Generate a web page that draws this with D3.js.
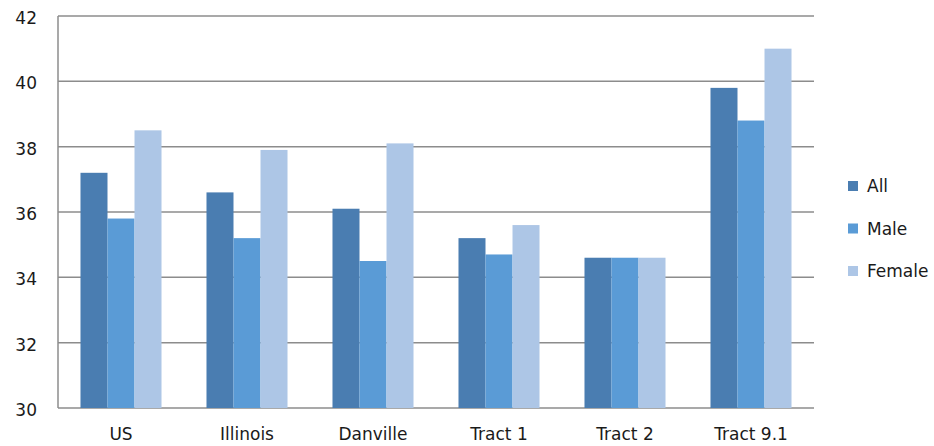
<!DOCTYPE html>
<html>
<head>
<meta charset="utf-8">
<script src="https://cdn.jsdelivr.net/npm/d3@7"></script>
<style>
  html, body { margin: 0; padding: 0; background: #fff; }
  svg text { font-family: "DejaVu Sans", Verdana, sans-serif; fill: #1a1a1a; }
</style>
</head>
<body>
<svg id="chart" width="934" height="446"></svg>
<script>
// Median age by place and sex
const categories = ["US", "Illinois", "Danville", "Tract 1", "Tract 2", "Tract 9.1"];
const seriesNames = ["All", "Male", "Female"];
const allValues    = [37.2, 36.6, 36.1, 35.2, 34.6, 39.8];
const maleValues   = [35.8, 35.2, 34.5, 34.7, 34.6, 38.8];
const femaleValues = [38.5, 37.9, 38.1, 35.6, 34.6, 41.0];
const yTicks = [30, 32, 34, 36, 38, 40, 42];
const colors = ["#4a7db1", "#5a9bd6", "#adc6e6"];

const series = [allValues, maleValues, femaleValues];

const svg = d3.select("#chart");
const margin = { left: 58, right: 120, top: 16, bottom: 38 };
const width = 934, height = 446;
const plotW = width - margin.left - margin.right;
const plotH = height - margin.top - margin.bottom;

const g = svg.append("g").attr("transform", `translate(${margin.left},${margin.top})`);

const x0 = d3.scaleBand().domain(categories).range([0, plotW]).paddingInner(0.357).paddingOuter(0.1785);
const x1 = d3.scaleBand().domain(seriesNames).range([0, x0.bandwidth()]);
const y = d3.scaleLinear().domain([30, 42]).range([plotH, 0]);

// horizontal gridlines
g.append("g")
  .selectAll("line")
  .data(yTicks)
  .join("line")
  .attr("x1", 0).attr("x2", plotW)
  .attr("y1", d => y(d)).attr("y2", d => y(d))
  .attr("stroke", "#8c8c8c").attr("stroke-width", 1.5);

// bars
const groups = g.append("g")
  .selectAll("g")
  .data(categories)
  .join("g")
  .attr("transform", d => `translate(${x0(d)},0)`);

groups.selectAll("rect")
  .data((c, i) => seriesNames.map((s, k) => ({ s, k, v: series[k][i] })))
  .join("rect")
  .attr("x", d => x1(d.s))
  .attr("width", x1.bandwidth())
  .attr("y", d => y(d.v))
  .attr("height", d => y(30) - y(d.v))
  .attr("fill", d => colors[d.k]);

// left axis line
g.append("line")
  .attr("x1", 0).attr("x2", 0).attr("y1", 0).attr("y2", plotH)
  .attr("stroke", "#8c8c8c").attr("stroke-width", 1.5);

// y axis labels
const yAxis = d3.axisLeft(y).tickValues(yTicks).tickSize(0).tickPadding(21);
const ya = g.append("g").call(yAxis);
ya.select(".domain").remove();
ya.selectAll("text")
  .style("font-size", "17px").style("font-family", "DejaVu Sans, sans-serif")
  .attr("fill", "#1a1a1a").attr("dy", "0.45em");

// x axis labels
const xAxis = d3.axisBottom(x0).tickSize(0).tickPadding(20);
const xa = g.append("g").attr("transform", `translate(0,${plotH})`).call(xAxis);
xa.select(".domain").remove();
xa.selectAll("text")
  .style("font-size", "17px").style("font-family", "DejaVu Sans, sans-serif")
  .attr("fill", "#1a1a1a");

// legend
const legend = svg.append("g").attr("transform", "translate(848,186)");
const item = legend.selectAll("g")
  .data(seriesNames)
  .join("g")
  .attr("transform", (d, i) => `translate(0,${i * 42.5})`);
item.append("rect")
  .attr("x", 0).attr("y", -5).attr("width", 10).attr("height", 10)
  .attr("fill", (d, i) => colors[i]);
item.append("text")
  .attr("x", 19).attr("y", 0).attr("dy", "0.36em")
  .style("font-size", "17px")
  .text(d => d);
</script>
</body>
</html>
